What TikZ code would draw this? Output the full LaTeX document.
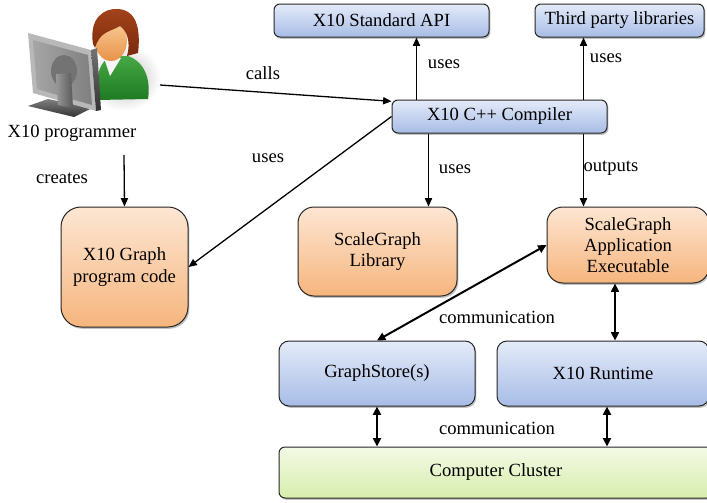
\documentclass[tikz,border=0pt]{standalone}
\usepackage{fontspec}
\setmainfont{Liberation Serif}
\usetikzlibrary{arrows.meta,shadows}
\definecolor{blueT}{HTML}{E4EBF9}
\definecolor{blueB}{HTML}{A7BCE6}
\definecolor{orangeT}{HTML}{FDE6D3}
\definecolor{orangeB}{HTML}{F6B57D}
\definecolor{greenT}{HTML}{F4FAE6}
\definecolor{greenB}{HTML}{D7EDAC}
\definecolor{hairC}{HTML}{A3431A}
\definecolor{hairD}{HTML}{7A2A0C}
\definecolor{skinT}{HTML}{F9CB96}
\definecolor{skinB}{HTML}{E89248}
\definecolor{shirtT}{HTML}{45A845}
\definecolor{shirtB}{HTML}{1F7A22}
\begin{document}
\begin{tikzpicture}[x=0.5pt,y=-0.5pt,
  font=\fontsize{9.3}{10.6}\selectfont,
  base/.style={draw=black!85, line width=0.5pt, align=center, inner sep=0pt,
    drop shadow={shadow xshift=0.7pt, shadow yshift=-0.9pt, opacity=0.35, fill=black!70}},
  bluebox/.style={base, rounded corners=3pt, top color=blueT, bottom color=blueB},
  orangebox/.style={base, rounded corners=8pt, top color=orangeT, bottom color=orangeB},
  greenbox/.style={base, rounded corners=3pt, top color=greenT, bottom color=greenB},
  arr/.style={-{Triangle[length=4.2pt,width=3.6pt]}, line width=0.65pt},
  darr/.style={{Triangle[length=4.2pt,width=4pt]}-{Triangle[length=4.2pt,width=4pt]}, line width=1pt},
  lbl/.style={inner sep=0pt}
]
\useasboundingbox (0,0) rectangle (707,503);
\begin{scope}
\clip (0,0) rectangle (707,503);

% ---- the programmer at the workstation ----
\shade[inner color=black!28, outer color=white] (124,78) ellipse (37 and 33);
% shirt
\shade[top color=shirtT, bottom color=shirtB]
  (97,100) .. controls (95,76) and (100,60) .. (112,56) -- (128,56)
  .. controls (145,62) and (151,80) .. (148,99) -- cycle;
% collar
\fill[white!92!gray] (104,58) -- (121,58) -- (110,76) -- cycle;
% face
\shade[top color=skinT, bottom color=skinB] (111,41) ellipse (16 and 20);
% hair
\shade[top color=hairC, bottom color=hairD]
  (93,44) .. controls (89,18) and (104,8) .. (118,9)
  .. controls (136,10) and (141,28) .. (138,53) -- (127,56)
  .. controls (131,42) and (127,31) .. (120,26)
  .. controls (110,32) and (100,31) .. (95,48) -- cycle;
% monitor base
\shade[top color=black!50, bottom color=black!80]
  (28,106) -- (48,99) -- (92,108) -- (74,117) -- cycle;
% monitor back panel with inset
\fill[black!28] (28,33) -- (91,50) -- (96,111) -- (33,93) -- cycle;
\shade[left color=black!35, right color=black!50]
  (33,40) -- (88,55) -- (92,105) -- (37,89) -- cycle;
% monitor edge
\shade[top color=black!55, bottom color=black!80]
  (91,50) -- (97,48) -- (101,110) -- (96,111) -- cycle;
% stand
\fill[black!55] (64,71) ellipse (13 and 16);
\shade[left color=black!40, right color=black!65]
  (56,74) -- (71,73) -- (73,108) -- (58,105) -- cycle;

\node[lbl] (prog) at (72,133) {X10 programmer};
\coordinate (callsfrom) at (160,85);
\coordinate (createsfrom) at (124,155);

% ---- boxes ----
\node[bluebox, minimum width=107.5pt, minimum height=16.5pt] (api) at (381.5,20.5) {X10 Standard API};
\node[bluebox, minimum width=84.5pt, minimum height=16.5pt] (third) at (619.5,20.5) {Third party libraries};
\node[bluebox, minimum width=107.5pt, minimum height=16.5pt] (comp) at (499.5,116.5) {X10 C++ Compiler};
\node[orangebox, rounded corners=10pt, minimum width=63.5pt, minimum height=60pt] (code) at (124.5,267) {X10 Graph\\program code};
\node[orangebox, minimum width=79.5pt, minimum height=44.5pt] (lib) at (377.5,251.5) {ScaleGraph\\Library};
\node[orangebox, minimum width=81pt, minimum height=38pt] (app) at (628,245) {ScaleGraph\\Application\\Executable};
\node[bluebox, rounded corners=5pt, minimum width=98pt, minimum height=32.5pt] (store) at (377,373.5) {GraphStore(s)};
\node[bluebox, rounded corners=5pt, minimum width=106pt, minimum height=32.5pt] (rt) at (603,373.5) {X10 Runtime};
\node[greenbox, minimum width=217pt, minimum height=25.5pt] (cluster) at (496,472.5) {Computer Cluster};

% ---- connectors ----
\draw[arr] (callsfrom) -- (comp.172);
\draw[arr] (comp.west) -- (code.east);
\draw[arr] (createsfrom) -- (code.north);
\draw[arr] ([xshift=12.5pt]comp.north west) -- ([xshift=12.5pt]comp.north west |- api.south);
\draw[arr] ([xshift=-12pt]comp.north east) -- ([xshift=-12pt]comp.north east |- third.south);
\draw[arr] ([xshift=18.5pt]comp.south west) -- ([xshift=18.5pt]comp.south west |- lib.north);
\draw[arr] ([xshift=-12pt]comp.south east) -- ([xshift=-12pt]comp.south east |- app.north);
\draw[darr] (store.north) -- (app.west);
\draw[darr] ([xshift=-6.5pt]app.south) -- ([xshift=-6.5pt]app.south |- rt.north);
\draw[darr] (store.south) -- (store.south |- cluster.north);
\draw[darr] ([xshift=2pt]rt.south) -- ([xshift=2pt]rt.south |- cluster.north);

% ---- connector labels ----
\node[lbl] (lcalls) at (263,73) {calls};
\node[lbl] (lusescode) at (268,158) {uses};
\node[lbl] (lusesapi) at (444,64) {uses};
\node[lbl] (lusesthird) at (606,58) {uses};
\node[lbl] (lcreates) at (62,178) {creates};
\node[lbl] (luseslib) at (455,169) {uses};
\node[lbl] (loutputs) at (611,168) {outputs};
\node[lbl] (lcomm1) at (497,317) {communication};
\node[lbl] (lcomm2) at (497,428) {communication};
\end{scope}
\end{tikzpicture}
\end{document}
